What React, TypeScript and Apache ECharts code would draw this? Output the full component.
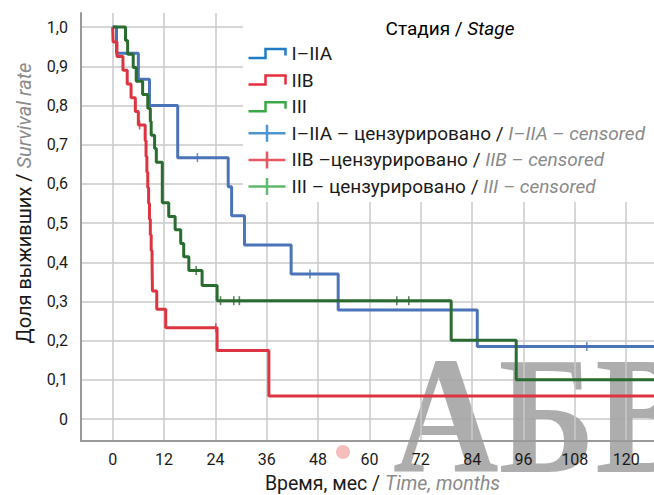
import React, { useEffect, useRef } from 'react';
import * as echarts from 'echarts';

// ---------- data ----------
const xTicks = [0, 12, 24, 36, 48, 60, 72, 84, 96, 108, 120];
const yTicks = [0, 0.1, 0.2, 0.3, 0.4, 0.5, 0.6, 0.7, 0.8, 0.9, 1.0];

const stageNames = ['I–IIA', 'IIB', 'III'];
const censorNames = [
  'I–IIA – цензурировано / I–IIA – censored',
  'IIB –цензурировано / IIB – censored',
  'III – цензурировано / III – censored',
];

// I–IIA
const blueTimes = [0, 0.9, 6.0, 8.6, 15.2, 27.0, 27.8, 30.8, 41.7, 52.7, 85.2, 127];
const blueValues = [1.0, 0.933, 0.867, 0.8, 0.667, 0.593, 0.519, 0.444, 0.37, 0.278, 0.185, 0.185];
const blueCensorTimes = [19.8, 46.1, 110.8];
const blueCensorValues = [0.667, 0.37, 0.185];

// IIB
const redTimes = [0, 0.1, 1.0, 2.4, 3.4, 4.3, 5.3, 6.0, 7.6, 7.8, 8.0, 8.2, 8.4, 8.6, 8.8, 9.0, 9.2, 9.3, 10.3, 12.4, 24.4, 36.5, 127];
const redValues = [1.0, 0.962, 0.925, 0.89, 0.855, 0.82, 0.785, 0.75, 0.71, 0.67, 0.63, 0.59, 0.55, 0.51, 0.47, 0.43, 0.4, 0.327, 0.28, 0.233, 0.175, 0.059, 0.059];
const redCensorTimes = [6.3, 24.1];
const redCensorValues = [0.75, 0.233];

// III
const greenTimes = [0, 3.0, 3.5, 4.8, 5.5, 7.0, 8.2, 8.8, 9.0, 9.8, 10.2, 11.6, 13.1, 14.6, 15.9, 16.6, 17.8, 20.9, 24.4, 79.1, 94.3, 127];
const greenValues = [1.0, 0.966, 0.931, 0.897, 0.862, 0.828, 0.793, 0.759, 0.724, 0.69, 0.655, 0.552, 0.517, 0.483, 0.448, 0.414, 0.379, 0.341, 0.302, 0.201, 0.1, 0.1];
const greenCensorTimes = [19.5, 25.2, 28.3, 29.6, 66.4, 69.2];
const greenCensorValues = [0.379, 0.302, 0.302, 0.302, 0.302, 0.302];

// ---------- styling ----------
const FONT = 'Roboto, "Noto Sans", sans-serif';
const lineColors = ['#4a73b8', '#dc3440', '#2a6b2f'];
const legendColors = ['#1f7bc4', '#e52d3c', '#3aa847'];
const STEP_ICON = 'path://M0,0M38,18M0,13.5H17V4.5H37V11';
const STEP_ICON_FULL = 'path://M0,0M38,18M0,13.5H17V4.5H37V13.5';
const PLUS_ICON = 'path://M0,0M38,18M0,9H37M18.5,0.5V17.5';

const zip = (a: number[], b: number[]) => a.map((t, i) => [t, b[i]]);

const richText = (size: number) => ({
  a: { fontFamily: FONT, fontSize: size, color: '#1a1a1a' },
  b: { fontFamily: FONT, fontSize: size, color: '#8a8a8a', fontStyle: 'italic' },
});

const splitName = (name: string) => {
  const i = name.indexOf(' / ');
  if (i < 0) return `{a|${name}}`;
  return `{a|${name.slice(0, i)} / }{b|${name.slice(i + 3)}}`;
};

const buildOption = () => {
  const lines = [
    [blueTimes, blueValues],
    [redTimes, redValues],
    [greenTimes, greenValues],
  ];
  const censors = [
    [blueCensorTimes, blueCensorValues],
    [redCensorTimes, redCensorValues],
    [greenCensorTimes, greenCensorValues],
  ];
  const series: any[] = [];
  lines.forEach(([t, v], i) => {
    series.push({
      name: stageNames[i],
      type: 'line',
      step: 'end',
      data: zip(t, v),
      symbol: 'none',
      showSymbol: false,
      lineStyle: { color: lineColors[i], width: 3 },
      itemStyle: { color: lineColors[i] },
      z: 2,
    });
  });
  censors.forEach(([t, v], i) => {
    series.push({
      name: censorNames[i],
      type: 'scatter',
      data: zip(t, v),
      symbol: 'rect',
      symbolSize: [1.6, 9],
      itemStyle: { color: lineColors[i] },
      z: 3,
    });
  });

  const legendData = [
    ...stageNames.map((n, i) => ({
      name: n,
      icon: i === 1 ? STEP_ICON_FULL : STEP_ICON,
      itemStyle: { color: 'none', borderColor: legendColors[i], borderWidth: 2.5 },
    })),
    ...censorNames.map((n, i) => ({
      name: n,
      icon: PLUS_ICON,
      itemStyle: { color: 'none', borderColor: legendColors[i], borderWidth: 2.5 },
    })),
  ];

  return {
    animation: false,
    backgroundColor: '#ffffff',
    textStyle: { fontFamily: FONT },
    grid: { left: 81, top: 13, right: 0, bottom: 54, containLabel: false, outerBoundsMode: 'none' },
    xAxis: {
      type: 'value',
      min: -7.4,
      max: 126.5,
      z: 1.5,
      axisLine: { show: true, onZero: false, lineStyle: { color: '#9a9a9a', width: 2 } },
      axisTick: { show: false, customValues: xTicks },
      axisLabel: { customValues: xTicks, fontSize: 16, color: '#1a1a1a', margin: 10, fontFamily: FONT },
      splitLine: { show: true, lineStyle: { color: '#cacaca', width: 1.5 } },
      name: '{a|Время, мес / }{b|Time, months}',
      nameLocation: 'middle',
      nameGap: 32,
      nameTextStyle: { padding: [0, 0, 0, 30], rich: richText(19.5) },
    },
    yAxis: {
      type: 'value',
      min: -0.056,
      max: 1.036,
      axisLine: { show: true, onZero: false, lineStyle: { color: '#9a9a9a', width: 2 } },
      axisTick: { show: false, customValues: yTicks },
      axisLabel: {
        customValues: yTicks,
        fontSize: 16,
        color: '#1a1a1a',
        margin: 13,
        fontFamily: FONT,
        padding: [0, 0, 10, 0],
        formatter: (v: number) => (v === 0 ? '0' : v.toFixed(1).replace('.', ',')),
      },
      splitLine: { show: true, lineStyle: { color: '#cacaca', width: 1.5 } },
      name: '{a|Доля выживших / }{b|Survival rate}',
      nameLocation: 'middle',
      nameGap: 47,
      nameTextStyle: { padding: [0, 0, 0, 48], rich: richText(20) },
    },
    legend: {
      orient: 'vertical',
      left: 246,
      top: 42,
      padding: 0,
      itemWidth: 38,
      itemHeight: 18,
      itemGap: 3.6,
      selectedMode: false,
      z: 10,
      data: legendData,
      formatter: (name: string) => splitName(name),
      textStyle: { rich: richText(19) },
    },
    graphic: [
      {
        type: 'rect',
        z: 3,
        shape: { x: 243, y: 13, width: 420, height: 189 },
        style: { fill: '#ffffff' },
      },
      {
        type: 'text',
        z: 4,
        x: 450,
        y: 28,
        style: {
          text: '{a|Стадия / }{b|Stage}',
          align: 'center',
          verticalAlign: 'middle',
          rich: richText(19),
        },
      },
      {
        type: 'text',
        z: 1,
        x: 393,
        y: 499,
        scaleX: 0.87,
        style: {
          text: 'АБВ',
          font: 'bold 168px "Liberation Serif", serif',
          fill: '#a4a4a4',
          opacity: 0.9,
          verticalAlign: 'bottom',
        },
      },
      {
        type: 'circle',
        z: 1,
        shape: { cx: 343, cy: 452, r: 7 },
        style: { fill: '#f6bdbd' },
      },
    ],
    series,
  };
};

export default function App() {
  const ref = useRef<HTMLDivElement>(null);
  useEffect(() => {
    if (!ref.current) return;
    const chart = echarts.init(ref.current, null, { renderer: 'svg' });
    chart.setOption(buildOption() as any);
    return () => chart.dispose();
  }, []);
  return (
    <div
      ref={ref}
      style={{ position: 'absolute', left: 0, top: 0, width: 654, height: 495, background: '#fff' }}
    />
  );
}
